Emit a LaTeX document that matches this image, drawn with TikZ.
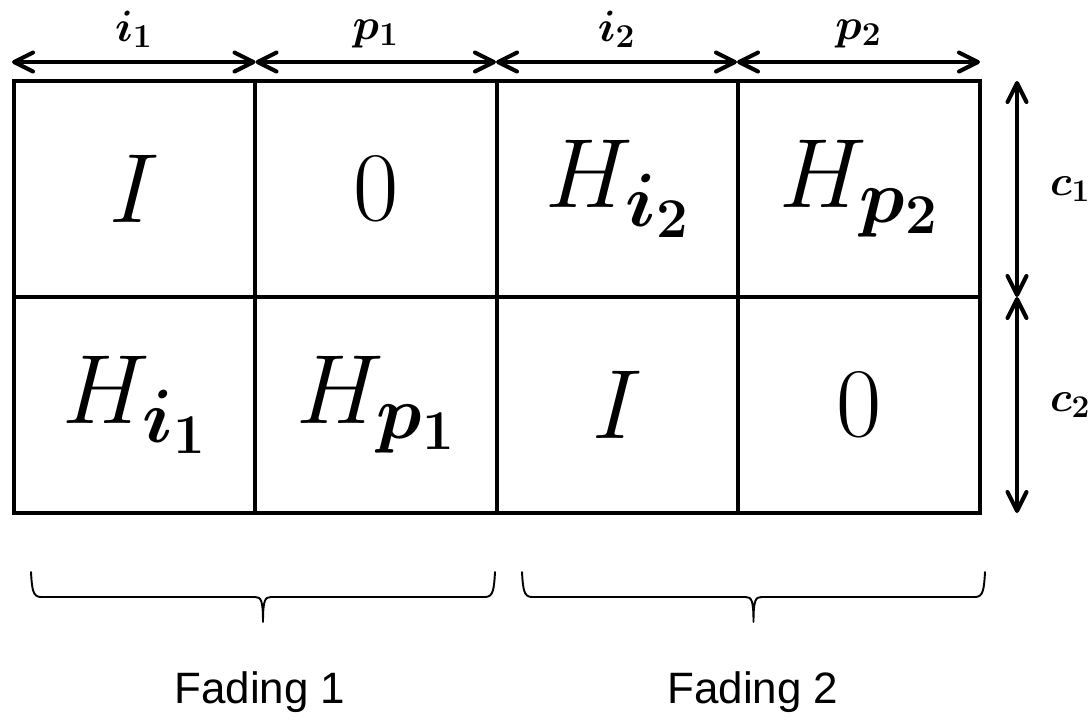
\RequirePackage{fix-cm}
\documentclass[tikz,border=0pt]{standalone}
\usepackage{amsmath}
\usepackage{fontspec}
\newfontfamily\fadefont{Liberation Sans}
\usetikzlibrary{positioning, arrows.meta}
\DeclareMathSizes{56}{56}{43}{32}
\DeclareMathSizes{25}{25}{19}{14}
\DeclareMathSizes{24}{24}{18}{13}

\tikzset{
  cell/.style={draw, line width=2.3pt, outer sep=0pt, inner sep=0pt,
    minimum width=4.83cm, minimum height=4.32cm,
    font=\fontsize{56}{60}\selectfont},
  dimarrow/.style={line width=2.3pt,
    {Straight Barb[length=3.8mm,width=3.8mm,round]}-{Straight Barb[length=3.8mm,width=3.8mm,round]}},
  dimlabel/.style={inner sep=0pt, font=\fontsize{25}{28}\selectfont},
  fadebrace/.style={line width=1.1pt, line join=round, line cap=round},
  fadelabel/.style={inner sep=0pt, anchor=base, font=\fadefont\fontsize{25}{30}\selectfont}
}

\begin{document}
\begin{tikzpicture}[x=0.02cm, y=-0.02cm, node distance=0pt]
\useasboundingbox (0,0) rectangle (1092,721);

% Draw the cells
\node[cell] (a11) at (134.75,189) {$I$};
\node[cell, right=of a11] (a12) {$0$};
\node[cell, right=of a12] (a13) {$H_{\boldsymbol{i_2}}$};
\node[cell, right=of a13] (a14) {$H_{\boldsymbol{p_2}}$};
\node[cell, below=of a11] (a21) {$H_{\boldsymbol{i_1}}$};
\node[cell, right=of a21] (a22) {$H_{\boldsymbol{p_1}}$};
\node[cell, right=of a22] (a23) {$I$};
\node[cell, right=of a23] (a24) {$0$};

% Ends of the dimensions
\coordinate (t0) at (12,62);
\coordinate (t1) at (255.5,62);
\coordinate (t2) at (496,62);
\coordinate (t3) at (737,62);
\coordinate (t4) at (980,62);
\coordinate (r0) at (1017,81);
\coordinate (r1) at (1017,297);
\coordinate (r2) at (1017,513);

% Add dimensions
\draw[dimarrow] (t0) -- (t1) node[midway, above=7pt, dimlabel] (li1) {$\boldsymbol{i_1}$};
\draw[dimarrow] (t1) -- (t2) node[midway, above=7pt, dimlabel] (lp1) {$\boldsymbol{p_1}$};
\draw[dimarrow] (t2) -- (t3) node[midway, above=7pt, dimlabel] (li2) {$\boldsymbol{i_2}$};
\draw[dimarrow] (t3) -- (t4) node[midway, above=7pt, dimlabel] (lp2) {$\boldsymbol{p_2}$};
\draw[dimarrow] (r0) -- (r1) node[midway, right=0.62cm, dimlabel, font=\fontsize{24}{27}\selectfont] (lc1) {$\boldsymbol{c_1}$};
\draw[dimarrow] (r1) -- (r2) node[midway, right=0.62cm, dimlabel, font=\fontsize{24}{27}\selectfont] (lc2) {$\boldsymbol{c_2}$};

% Draw braces
\draw[fadebrace] (31,572) .. controls (32,590) and (33,597) .. (41,597) -- (255,597)
  .. controls (261,597) and (263,600) .. (263,622)
  .. controls (263,600) and (265,597) .. (271,597) -- (485,597)
  .. controls (493,597) and (494,590) .. (495,572);
\draw[fadebrace] (522,572) .. controls (523,590) and (524,597) .. (532,597) -- (745.5,597)
  .. controls (751.5,597) and (753.5,600) .. (753.5,622)
  .. controls (753.5,600) and (755.5,597) .. (761.5,597) -- (975,597)
  .. controls (983,597) and (984,590) .. (985,572);

% Fading labels
\node[fadelabel] (fad1) at (260,703) {Fading 1};
\node[fadelabel] (fad2) at (753,703) {Fading 2};
\end{tikzpicture}
\end{document}
